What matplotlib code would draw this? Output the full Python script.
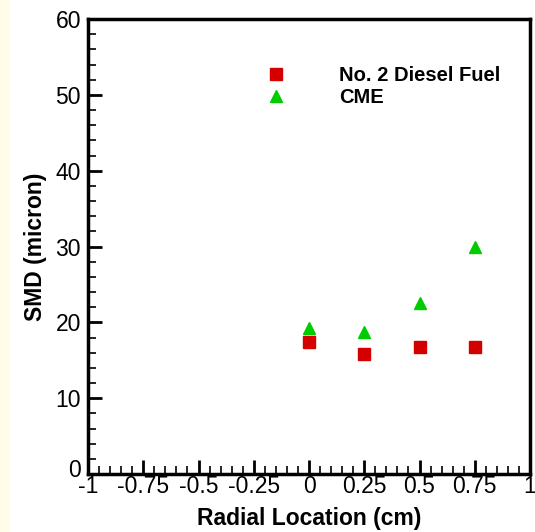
import matplotlib
matplotlib.use('Agg')
import matplotlib.pyplot as plt
from matplotlib.patches import Rectangle
from matplotlib.ticker import MultipleLocator
from matplotlib.transforms import ScaledTranslation

plt.rcParams['font.family'] = ['Liberation Sans', 'DejaVu Sans']

# data
radial = [0, 0.25, 0.5, 0.75]
smd_diesel = [17.4, 15.8, 16.8, 16.8]
smd_cme = [19.2, 18.7, 22.6, 29.9]
x_ticks = [-1, -0.75, -0.5, -0.25, 0, 0.25, 0.5, 0.75, 1]
x_tick_labels = ['-1', '-0.75', '-0.5', '-0.25', '0', '0.25', '0.5', '0.75', '1']
y_ticks = [0, 10, 20, 30, 40, 50, 60]

fig = plt.figure(figsize=(5.35, 5.32), dpi=100)
fig.patches.append(Rectangle((0, 0), 10 / 535, 1, transform=fig.transFigure,
                             facecolor='#FFFDE8', edgecolor='none', zorder=-1))
ax = fig.add_axes([88 / 535, 1 - 474 / 532, (530 - 88) / 535, (474 - 19) / 532])

ax.plot(radial, smd_diesel, 's', color='#D40000', markersize=8, linestyle='none',
        label='No. 2 Diesel Fuel')
ax.plot(radial, smd_cme, '^', color='#00CC00', markersize=9, linestyle='none',
        label='CME')

ax.set_xlim(-1, 1)
ax.set_ylim(0, 60)
ax.set_xticks(x_ticks)
ax.set_xticklabels(x_tick_labels)
ax.set_yticks(y_ticks)
ax.xaxis.set_minor_locator(MultipleLocator(0.05))
ax.yaxis.set_minor_locator(MultipleLocator(2))
ax.tick_params(which='major', direction='in', length=10, width=2, labelsize=16.5)
ax.tick_params(axis='x', pad=1)
ax.tick_params(axis='y', pad=5)
ax.tick_params(which='minor', direction='in', length=6, width=1.2)
ax.tick_params(top=False, right=False, which='both')
for s in ax.spines.values():
    s.set_linewidth(2.5)

# the "0" on the y axis sits a little above its tick, as in the original
lab0 = ax.get_yticklabels()[0]
lab0.set_transform(lab0.get_transform() + ScaledTranslation(0, 6 / 100, fig.dpi_scale_trans))

ax.set_xlabel('Radial Location (cm)', fontsize=16.5, fontweight='bold', labelpad=6)
ax.set_ylabel('SMD (micron)', fontsize=16.5, fontweight='bold', labelpad=6)

leg = ax.legend(loc='upper left', bbox_to_anchor=(0.362, 0.937), frameon=False,
                handlelength=1, handletextpad=2.6, labelspacing=0.15,
                prop={'weight': 'bold', 'size': 14.5})

fig.savefig('out.png', dpi=100)
